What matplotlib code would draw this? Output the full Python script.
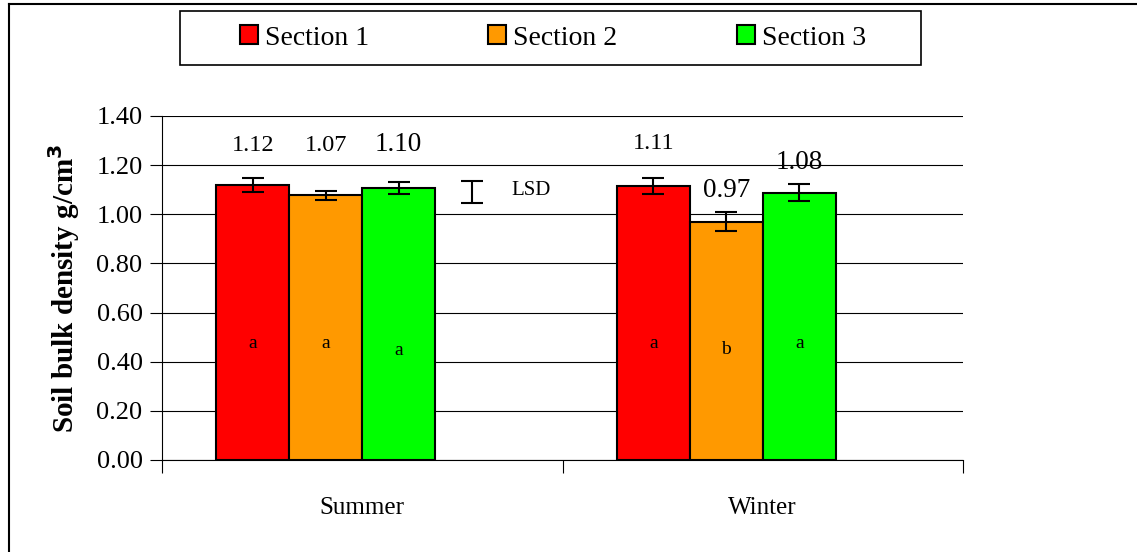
import numpy as np
import matplotlib.pyplot as plt
from matplotlib.lines import Line2D
from matplotlib.patches import Rectangle

plt.rcParams['font.family'] = ['Liberation Serif', 'DejaVu Serif']

# data
seasons = ["Summer", "Winter"]
sections = ["Section 1", "Section 2", "Section 3"]
density = [[1.12, 1.115], [1.078, 0.970], [1.107, 1.088]]
errors = [[0.028, 0.034], [0.018, 0.039], [0.024, 0.034]]
letters = [["a", "a"], ["a", "b"], ["a", "a"]]
value_labels = [["1.12", "1.11"], ["1.07", "0.97"], ["1.10", "1.08"]]
lsd_value = 1.091
lsd_err = 0.045

colors = ["#ff0000", "#ff9900", "#00ff00"]
# where the labels sit (layout only)
label_y = [[1.278, 1.290], [1.278, 1.096], [1.286, 1.209]]
label_size = [[17.5, 17.5], [17.5, 19.5], [19.5, 19.5]]
letter_y = [[0.476, 0.476], [0.476, 0.448], [0.444, 0.476]]

fig = plt.figure(figsize=(11.37, 5.52), dpi=100)
ax = fig.add_axes([162/1137, 1-460/552, 801/1137, 344/552])

x = np.arange(len(seasons))
w = 0.182
offsets = [-1.5*w, -0.5*w, 0.5*w]

for i in range(3):
    pos = x + offsets[i]
    ax.bar(pos, density[i], width=w, color=colors[i], edgecolor="black",
           linewidth=1.5, zorder=3, label=sections[i])
    ax.errorbar(pos, density[i], yerr=errors[i], fmt="none", ecolor="black",
                elinewidth=1.5, capsize=8, capthick=1.5, zorder=4)
    for j in range(len(seasons)):
        ax.text(pos[j], label_y[i][j], value_labels[i][j], ha="center",
                va="center", fontsize=label_size[i][j])
        ax.text(pos[j], letter_y[i][j], letters[i][j], ha="center",
                va="center", fontsize=14)

# LSD bar (fourth, invisible series)
lsd_pos = x[0] + 1.5*w
ax.errorbar([lsd_pos], [lsd_value], yerr=[lsd_err], fmt="none", ecolor="black",
            elinewidth=1.5, capsize=8, capthick=1.5, zorder=4)
ax.text(lsd_pos + 0.1, lsd_value + 0.005, "LSD", ha="left", va="center",
        fontsize=15)

ax.set_xlim(-0.5, 1.5)
ax.set_ylim(0, 1.4)
ax.set_yticks(np.arange(0, 1.41, 0.2))
ax.set_yticklabels([f"{v:.2f}" for v in np.arange(0, 1.41, 0.2)], fontsize=19)
ax.yaxis.grid(True, color="black", linewidth=0.8, zorder=0)
ax.set_axisbelow(True)
ax.tick_params(axis="y", length=9, width=0.8, direction="out", pad=5)

ax.set_xticks([-0.5, 0.5, 1.5])
ax.set_xticklabels([])
ax.set_xticks(x, minor=True)
ax.set_xticklabels(seasons, minor=True, fontsize=18)
ax.tick_params(axis="x", which="major", length=9, width=0.8, direction="out")
ax.tick_params(axis="x", which="minor", length=0, pad=27)

for s in ["top", "right"]:
    ax.spines[s].set_visible(False)
ax.spines["left"].set_linewidth(0.8)
ax.spines["bottom"].set_linewidth(0.8)

ax.set_ylabel("Soil bulk density g/cm$^\\mathbf{3}$", fontsize=21,
              fontweight="bold", labelpad=10)

# legend with its own frame
fig.patches.append(Rectangle((180/1137, 1-65/552), 741/1137, 54/552,
                             transform=fig.transFigure, facecolor="white",
                             edgecolor="black", linewidth=1.2))
leg = fig.legend(loc="center", bbox_to_anchor=(553/1137, 1-38/552), ncol=3,
                 frameon=False, fontsize=20, handlelength=0.65,
                 handleheight=0.65, handletextpad=0.25, columnspacing=4.3)
for h in leg.legend_handles:
    h.set_linewidth(1.5)

# outer border lines
fig.add_artist(Line2D([9/1137, 1], [1-4/552, 1-4/552], color="black",
                      linewidth=1.5, transform=fig.transFigure))
fig.add_artist(Line2D([9/1137, 9/1137], [0, 1-4/552], color="black",
                      linewidth=1.5, transform=fig.transFigure))

fig.savefig("out.png", dpi=100)
